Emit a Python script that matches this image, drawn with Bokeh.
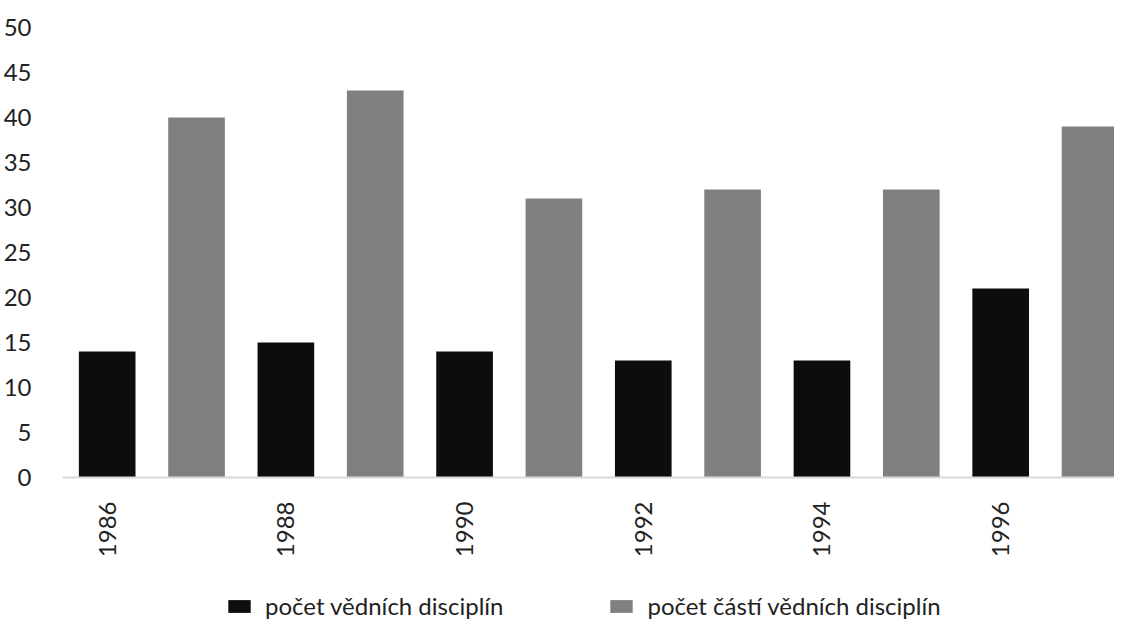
from bokeh.plotting import figure
from bokeh.models import Range1d, FixedTicker, Legend, LegendItem
from bokeh.layouts import column
from bokeh.embed import file_html
from bokeh.resources import INLINE
import math

# Data
years_a = [1986, 1988, 1990, 1992, 1994, 1996]
values_a = [14, 15, 14, 13, 13, 21]          # počet vědních disciplín
years_b = [1987, 1989, 1991, 1993, 1995, 1997]
values_b = [40, 43, 31, 32, 32, 39]          # počet částí vědních disciplín
tick_years = [1986, 1988, 1990, 1992, 1994, 1996]
tick_labels = ["1986", "1988", "1990", "1992", "1994", "1996"]
y_ticks = [0, 5, 10, 15, 20, 25, 30, 35, 40, 45, 50]
series_names = ["počet vědních disciplín", "počet částí vědních disciplín"]
colors = ["#0d0d0d", "#808080"]

FONT = "Lato"

p = figure(width=1114, height=560, output_backend="svg", toolbar_location=None,
           x_range=Range1d(1985.5, 1997.274), y_range=Range1d(0, 50),
           min_border_left=56, min_border_right=0, min_border_top=27,
           min_border_bottom=83)
p.outline_line_color = None
p.background_fill_color = "white"
p.border_fill_color = "white"
p.xgrid.visible = False
p.ygrid.visible = False

p.vbar(x=years_a, top=values_a, width=0.634, bottom=0,
       fill_color=colors[0], line_color=None)
p.vbar(x=years_b, top=values_b, width=0.634, bottom=0,
       fill_color=colors[1], line_color=None)

# y axis
p.yaxis.ticker = FixedTicker(ticks=y_ticks)
p.yaxis.axis_line_color = None
p.yaxis.major_tick_line_color = None
p.yaxis.minor_tick_line_color = None
p.yaxis.major_label_standoff = 25
p.yaxis.major_label_text_font = FONT
p.yaxis.major_label_text_font_size = "24px"
p.yaxis.major_label_text_color = "#222222"

# x axis
p.xaxis.ticker = FixedTicker(ticks=tick_years)
p.xaxis.major_label_overrides = {y: l for y, l in zip(tick_years, tick_labels)}
p.xaxis.axis_line_color = "#d9d9d9"
p.xaxis.axis_line_width = 2
p.xaxis.major_tick_line_color = None
p.xaxis.minor_tick_line_color = None
p.xaxis.major_label_orientation = math.pi / 2
p.xaxis.major_label_standoff = 18
p.xaxis.major_label_text_font = FONT
p.xaxis.major_label_text_font_size = "24px"
p.xaxis.major_label_text_color = "#222222"

# legend strip (its bars lie outside its visible range; only the legend shows)
lg = figure(width=1114, height=60, output_backend="svg", toolbar_location=None,
            x_range=Range1d(0, 1), y_range=Range1d(0, 1),
            x_axis_location=None, y_axis_location=None,
            min_border_left=0, min_border_right=0, min_border_top=0,
            min_border_bottom=0)
lg.outline_line_color = None
lg.xgrid.visible = False
lg.ygrid.visible = False
k1 = lg.vbar(x=years_a, top=values_a, width=0.634, fill_color=colors[0], line_color=None)
k2 = lg.vbar(x=years_b, top=values_b, width=0.634, fill_color=colors[1], line_color=None)

legend = Legend(items=[LegendItem(label=series_names[0], renderers=[k1]),
                       LegendItem(label=series_names[1], renderers=[k2])],
                orientation="horizontal", location=(163, 0),
                glyph_width=28, glyph_height=16, label_standoff=12,
                spacing=104, padding=0, margin=0,
                label_text_font=FONT, label_text_font_size="24px",
                label_text_color="#222222",
                border_line_color=None, background_fill_alpha=0)
lg.add_layout(legend, "center")

layout = column(p, lg, spacing=0)
open("out.html", "w").write(file_html(layout, INLINE))
